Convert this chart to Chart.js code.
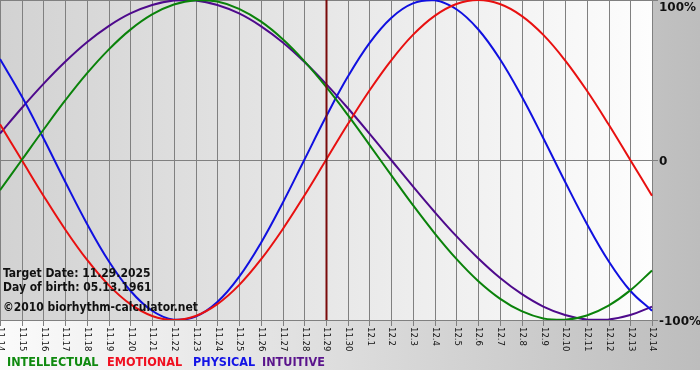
<!DOCTYPE html>
<html><head><meta charset="utf-8">
<script src="https://cdn.jsdelivr.net/npm/chart.js@4.4.1/dist/chart.umd.min.js"></script>
<style>html,body{margin:0;padding:0;background:#fff}canvas{display:block}</style>
</head><body>
<canvas id="c" width="700" height="380" style="width:700px;height:380px"></canvas>
<script>
const categories = ['11.14','11.15','11.16','11.17','11.18','11.19','11.20','11.21','11.22','11.23','11.24','11.25','11.26','11.27','11.28','11.29','11.30','12.1','12.2','12.3','12.4','12.5','12.6','12.7','12.8','12.9','12.10','12.11','12.12','12.13','12.14'];
const intellectual = [-18.9,0,18.9,37.2,54.1,69.0,81.5,91.0,97.2,99.9,99.0,94.5,86.6,75.6,61.8,45.8,28.2,9.5,-9.5,-28.2,-45.8,-61.8,-75.6,-86.6,-94.5,-99.0,-99.9,-97.2,-91.0,-81.5,-69.0];
const emotional = [22.3,0,-22.3,-43.4,-62.3,-78.2,-90.1,-97.5,-100,-97.5,-90.1,-78.2,-62.3,-43.4,-22.3,0,22.3,43.4,62.3,78.2,90.1,97.5,100,97.5,90.1,78.2,62.3,43.4,22.3,0,-22.3];
const physical = [63.1,39.8,13.6,-13.6,-39.8,-63.1,-81.7,-94.2,-99.8,-97.9,-88.8,-73.1,-52.0,-27.0,0,27.0,52.0,73.1,88.8,97.9,99.8,94.2,81.7,63.1,39.8,13.6,-13.6,-39.8,-63.1,-81.7,-94.2];
const intuitive = [16.5,32.5,47.6,61.4,73.6,83.7,91.6,96.9,99.7,99.7,96.9,91.6,83.7,73.6,61.4,47.6,32.5,16.5,0,-16.5,-32.5,-47.6,-61.4,-73.6,-83.7,-91.6,-96.9,-99.7,-99.7,-96.9,-91.6];
const yTicks = [100, 0, -100];
const yTickLabels = ['100%', '0', '-100%'];
const targetLabel = '11.29';
const legendNames = ['INTELLECTUAL','EMOTIONAL','PHYSICAL','INTUITIVE'];
const infoLines = ['Target Date: 11.29.2025', 'Day of birth: 05.13.1961', '\u00A92010 biorhythm-calculator.net'];

const colors = ['#0a820a', '#e81010', '#1010e0', '#4e0a8c'];
const legendColors = ['#0f8a0f', '#f01020', '#1414e6', '#5a148c'];

const bgPlugin = {
  id: 'bg',
  beforeDraw(chart) {
    const ctx = chart.ctx;
    ctx.save();
    ctx.fillStyle = '#ffffff';
    ctx.fillRect(0, 0, 700, 380);
    const g = ctx.createLinearGradient(0, 0, 700, 0);
    g.addColorStop(0, '#fbfbfb');
    g.addColorStop(1, '#bdbdbd');
    ctx.fillStyle = g;
    ctx.fillRect(0, 0, 700, 370);
    ctx.restore();
  },
  beforeDatasetsDraw(chart) {
    const ctx = chart.ctx, a = chart.chartArea;
    const xs = chart.scales.x, ys = chart.scales.y;
    ctx.save();
    const g = ctx.createLinearGradient(a.left, 0, a.right, 0);
    g.addColorStop(0, '#d2d2d2');
    g.addColorStop(1, '#fdfdfd');
    ctx.fillStyle = g;
    ctx.fillRect(a.left, a.top, a.right - a.left, a.bottom - a.top);
    ctx.strokeStyle = '#808080';
    ctx.lineWidth = 1;
    categories.forEach((c, i) => {
      const x = Math.round(xs.getPixelForValue(i)) + 0.5;
      ctx.beginPath();
      ctx.moveTo(x, a.top);
      ctx.lineTo(x, a.bottom + 6);
      ctx.stroke();
    });
    yTicks.forEach(v => {
      const y = Math.round(ys.getPixelForValue(v)) + 0.5;
      ctx.beginPath();
      ctx.moveTo(a.left, y);
      ctx.lineTo(a.right + 6, y);
      ctx.stroke();
    });
    // x tick labels
    ctx.fillStyle = '#111';
    ctx.font = "8.5px 'DejaVu Sans'";
    ctx.textAlign = 'left';
    ctx.textBaseline = 'middle';
    categories.forEach((c, i) => {
      const x = xs.getPixelForValue(i);
      ctx.save();
      ctx.translate(x + 0.5, a.bottom + 7);
      ctx.rotate(Math.PI / 2);
      ctx.fillText(c, 0, 0);
      ctx.restore();
    });
    // y labels
    ctx.font = "bold 12px 'DejaVu Sans'";
    ctx.fillStyle = '#111';
    yTicks.forEach((v, i) => {
      let y = ys.getPixelForValue(v) + 1.5;
      if (y < 8) y = 8;
      ctx.fillText(yTickLabels[i], a.right + 7, y);
    });
    ctx.restore();
  },
  afterDatasetsDraw(chart) {
    const ctx = chart.ctx, a = chart.chartArea;
    const xs = chart.scales.x;
    ctx.save();
    const ti = categories.indexOf(targetLabel);
    const tx = Math.round(xs.getPixelForValue(ti)) + 0.5;
    ctx.strokeStyle = '#7a0a0a';
    ctx.lineWidth = 2;
    ctx.beginPath();
    ctx.moveTo(tx, a.top);
    ctx.lineTo(tx, a.bottom);
    ctx.stroke();
    // info text
    ctx.fillStyle = '#111';
    ctx.font = "bold 12px 'DejaVu Sans Condensed', 'DejaVu Sans'";
    ctx.textAlign = 'left';
    ctx.textBaseline = 'alphabetic';
    const ys = [277, 291, 311];
    infoLines.forEach((t, i) => ctx.fillText(t, 3, ys[i]));
    // legend
    ctx.font = "bold 12.5px 'DejaVu Sans Condensed', 'DejaVu Sans'";
    const lx = [7, 107, 193, 262];
    legendNames.forEach((n, i) => {
      ctx.fillStyle = legendColors[i];
      ctx.fillText(n, lx[i], 366);
    });
    ctx.restore();
  }
};

const mk = (label, data, i) => ({
  label, data,
  borderColor: colors[i],
  backgroundColor: colors[i],
  borderWidth: 2,
  pointRadius: 0,
  tension: 0.4,
  fill: false
});

new Chart(document.getElementById('c'), {
  type: 'line',
  data: {
    labels: categories,
    datasets: [
      mk('INTELLECTUAL', intellectual, 0),
      mk('EMOTIONAL', emotional, 1),
      mk('PHYSICAL', physical, 2),
      mk('INTUITIVE', intuitive, 3)
    ]
  },
  options: {
    responsive: false,
    animation: false,
    devicePixelRatio: 1,
    layout: { padding: { left: 0, top: 0, right: 48, bottom: 60 } },
    scales: {
      x: { display: false, offset: false },
      y: { display: false, min: -100, max: 100 }
    },
    plugins: { legend: { display: false }, tooltip: { enabled: false } },
    events: []
  },
  plugins: [bgPlugin]
});
</script>
</body></html>
